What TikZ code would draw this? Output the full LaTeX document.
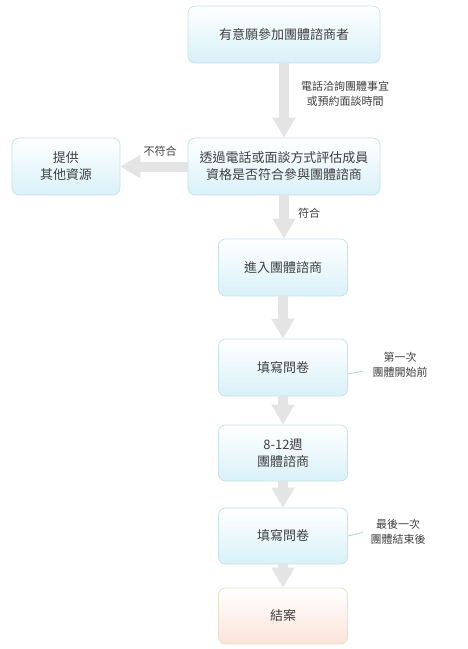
\documentclass[tikz,border=0pt]{standalone}
\usepackage{fontspec}
\setmainfont{Noto Sans CJK TC}
\usetikzlibrary{arrows.meta}
\definecolor{txt}{HTML}{404040}
\definecolor{bluebd}{HTML}{C6E2EC}
\definecolor{bluebot}{HTML}{D8F1F8}
\definecolor{peachbd}{HTML}{EADFCF}
\definecolor{peachbot}{HTML}{FBE4D9}
\definecolor{arrowc}{HTML}{E4E4E4}
\definecolor{notec}{HTML}{B4D2DC}
\tikzset{
  box/.style={draw=bluebd, line width=0.8pt, rounded corners=7pt, top color=white, bottom color=bluebot,
    text=txt, font=\fontsize{13}{17}\selectfont, align=center, inner sep=0pt},
  endbox/.style={box, draw=peachbd, top color=white, bottom color=peachbot},
  bigarrow/.style={draw=arrowc, line width=10pt, -{Triangle[width=22pt,length=20pt]}},
  lbl/.style={text=txt, font=\fontsize{11}{15}\selectfont, align=center, inner sep=0pt},
  noteline/.style={draw=notec, line width=0.8pt}
}
\begin{document}
\begin{tikzpicture}[x=1pt,y=-1pt]
\useasboundingbox (0,0) rectangle (467,649);
\fill[white] (0,0) rectangle (467,649);
% boxes
\node[box, minimum width=192pt, minimum height=57pt] (b1) at (284,34.5) {有意願參加團體諮商者};
\node[box, minimum width=192pt, minimum height=57pt] (b2) at (284,166.5) {透過電話或面談方式評估成員\\資格是否符合參與團體諮商};
\node[box, minimum width=108pt, minimum height=57pt] (res) at (66,166.5) {提供\\其他資源};
\node[box, minimum width=129pt, minimum height=57pt] (b3) at (283,267.5) {進入團體諮商};
\node[box, minimum width=129pt, minimum height=57pt] (b4) at (283,367.5) {填寫問卷};
\node[box, minimum width=129pt, minimum height=56pt] (b5) at (283,453) {8-12週\\團體諮商};
\node[box, minimum width=129pt, minimum height=56pt] (b6) at (283,536) {填寫問卷};
\node[endbox, minimum width=129pt, minimum height=56pt] (b7) at (283,616) {結案};
% arrows
\draw[bigarrow] (b1.south) -- (b2.north);
\draw[bigarrow] (b2.west) -- (res.east);
\draw[bigarrow] (b2.south) -- (b2.south |- b3.north);
\draw[bigarrow] (b3.south) -- (b4.north);
\draw[bigarrow] (b4.south) -- (b5.north);
\draw[bigarrow] (b5.south) -- (b6.north);
\draw[bigarrow] (b6.south) -- (b7.north);
% labels
\node[lbl] (l1) at (345,94) {電話洽詢團體事宜\\或預約面談時間};
\node[lbl] (l2) at (160,151) {不符合};
\node[lbl] (l3) at (309,213) {符合};
\node[lbl] (n1) at (400,365) {第一次\\團體開始前};
\node[lbl] (n2) at (398,532) {最後一次\\團體結束後};
% note lines
\coordinate (c1) at (363,371);
\coordinate (c2) at (363,532.5);
\draw[noteline] (b4.east |- 0,374) -- (c1);
\draw[noteline] (b6.east |- 0,536) -- (c2);
\end{tikzpicture}
\end{document}
